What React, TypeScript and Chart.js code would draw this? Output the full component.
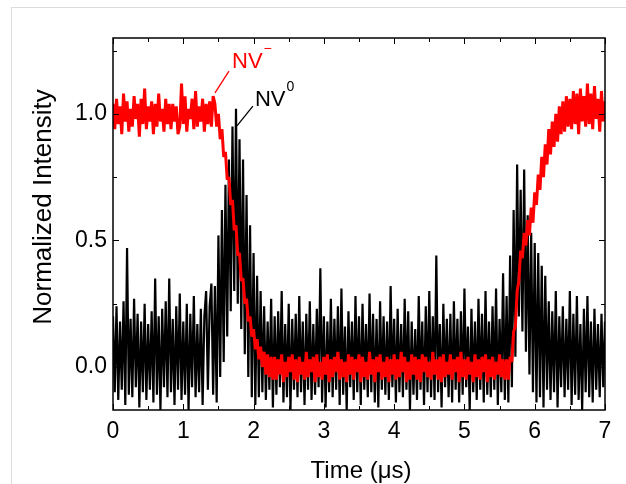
import React, { useEffect, useRef } from "react";
import { Chart, registerables } from "chart.js";

Chart.register(...registerables);

// Sampling step of the time base (µs)
const sampleStepUs = 0.025;

// NV0 (black) trace, split into time segments
const nvZeroBefore = [
  0.2, -0.1, 0.24, -0.13, 0.18, -0.09, 0.26, -0.15, 0.47, -0.11,
  0.19, -0.12, 0.27, -0.08, 0.21, -0.16, 0.18, -0.1, 0.25, -0.13,
  0.17, -0.09, 0.22, -0.14, 0.35, -0.11, 0.2, -0.17, 0.23, -0.08,
  0.26, -0.12, 0.35, -0.1, 0.19, -0.15, 0.24, -0.09, 0.29, -0.13,
  0.18, -0.11, 0.25, -0.17, 0.21, -0.08, 0.28, -0.12, 0.17, -0.1,
  0.23, -0.15, 0.2, 0.3, -0.09, 0.24, 0.33, -0.11,
];
const nvZeroPeak1 = [
  0.32, -0.14, 0.52, -0.04, 0.62, 0.02, 0.72, 0.12, 0.82, 0.22,
  0.95, 0.3, 1.02, 0.25, 0.9, 0.15, 0.82, 0.05, 0.68, -0.04,
  0.56, -0.12, 0.45, -0.15, 0.36, -0.12, 0.3,
];
const nvZeroDark = [
  -0.1, 0.24, -0.13, 0.18, -0.09, 0.27, -0.16, 0.2, -0.11, 0.22,
  -0.08, 0.3, -0.14, 0.17, -0.12, 0.25, -0.17, 0.19, -0.09, 0.21,
  -0.12, 0.28, -0.1, 0.18, -0.15, 0.21, -0.09, 0.26, -0.13, 0.17,
  -0.11, 0.23, -0.08, 0.39, -0.14, 0.2, -0.16, 0.18, -0.1, 0.27,
  -0.12, 0.19, -0.09, 0.24, -0.15, 0.31, -0.11, 0.16, -0.17, 0.22,
  -0.08, 0.18, -0.13, 0.28, -0.1, 0.2, -0.15, 0.25, -0.09, 0.17,
  -0.12, 0.29, -0.1, 0.21, -0.14, 0.19, -0.16, 0.26, -0.09, 0.2,
  -0.11, 0.18, -0.13, 0.32, -0.08, 0.19, -0.14, 0.23, -0.1, 0.17,
  -0.12, 0.27, -0.09, 0.22, -0.17, 0.18, -0.11, 0.15, -0.13, 0.28,
  -0.09, 0.18, -0.15, 0.24, -0.1, 0.3, -0.12, 0.2, -0.13, 0.44,
  -0.1, 0.17, -0.16, 0.25, -0.08, 0.19, -0.12, 0.21, -0.14, 0.26,
  -0.09, 0.19, -0.14, 0.22, -0.11, 0.31, -0.08, 0.16, -0.17, 0.23,
  -0.1, 0.18, -0.13, 0.27, -0.09, 0.21, -0.14, 0.3, -0.11, 0.18,
  -0.12, 0.24, -0.09, 0.31, -0.15, 0.19, -0.1, 0.37, -0.13,
];
const nvZeroPeak2 = [
  0.28, -0.14, 0.44, -0.08, 0.62, 0.04, 0.8, 0.2, 0.7, 0.14,
  0.78, 0.06, 0.6, -0.03, 0.53, -0.1, 0.49, -0.14, 0.45, -0.12,
  0.4, -0.16,
];
const nvZeroAfter = [
  0.36, -0.09, 0.26, -0.13, 0.22, -0.1, 0.3, -0.16, 0.2, -0.08,
  0.24, -0.12, 0.19, -0.09, 0.3, -0.15, 0.21, -0.11, 0.28, -0.13,
  0.17, -0.17, 0.23, -0.1, 0.28, -0.12, 0.18, -0.14, 0.23, -0.09,
  0.17, -0.12, 0.21, -0.08, 0.18,
];

// NV- (red) trace, split into time segments
const nvMinusBright = [
  1.04, 0.94, 1.06, 0.96, 1.03, 0.92, 1.08, 0.97, 1.05, 0.93,
  1.02, 0.95, 1.07, 0.98, 1.04, 0.91, 1.06, 0.96, 1.1, 0.94,
  1.03, 0.97, 1.05, 0.92, 1.04, 0.95, 1.08, 0.97, 1.02, 0.93,
  1.06, 0.96, 1.04, 0.94, 1.04, 0.97, 1.03, 0.92, 0.95, 1.12,
  0.96, 1.07, 0.93, 1.02, 0.98, 1.06, 0.94, 1.09, 0.95, 1.03,
  0.97, 1.06, 0.93, 1.04, 0.96, 1.05, 0.95, 1.07,
];
const nvMinusFall = [
  1.04, 0.95, 1.0, 0.9, 0.94, 0.83, 0.85, 0.74, 0.75, 0.64,
  0.66, 0.54, 0.56, 0.44, 0.45, 0.34, 0.35, 0.25, 0.27, 0.18,
  0.2, 0.12, 0.15, 0.07, 0.11, 0.03, 0.08, 0.0, 0.06, -0.03,
  0.05, -0.04, 0.04, -0.05,
];
const nvMinusDark = [
  0.04, -0.05, 0.03, -0.03, 0.05, -0.06, 0.02, -0.04, 0.04, -0.02,
  0.05, -0.05, 0.03, -0.06, 0.04, -0.03, 0.02, -0.05, 0.06, -0.04,
  0.03, -0.02, 0.04, -0.06, 0.05, -0.04, 0.02, -0.05, 0.04, -0.03,
  0.05, -0.06, 0.03, -0.04, 0.04, -0.02, 0.06, -0.05, 0.03, -0.04,
  0.02, -0.06, 0.05, -0.03, 0.04, -0.05, 0.03, -0.02, 0.05, -0.06,
  0.04, -0.04, 0.02, -0.05, 0.06, -0.03, 0.03, -0.06, 0.04, -0.02,
  0.05, -0.05, 0.02, -0.04, 0.04, -0.06, 0.03, -0.03, 0.05, -0.05,
  0.03, -0.04, 0.06, -0.02, 0.04, -0.06, 0.02, -0.05, 0.05, -0.03,
  0.04, -0.05, 0.03, -0.06, 0.05, -0.02, 0.04, -0.04, 0.02, -0.05,
  0.06, -0.03, 0.03, -0.05, 0.04, -0.06, 0.05, -0.04, 0.02, -0.03,
  0.05, -0.05, 0.03, -0.02, 0.04, -0.06, 0.06, -0.04, 0.03, -0.05,
  0.04, -0.03, 0.02, -0.06, 0.05, -0.04, 0.03, -0.05, 0.04, -0.02,
  0.05, -0.06, 0.03, -0.04, 0.04, -0.05, 0.02, -0.03, 0.05, -0.04,
  0.03, -0.05,
];
const nvMinusRise = [
  0.03, -0.05, 0.04, 0.02, 0.14, 0.16, 0.3, 0.34, 0.46, 0.43,
  0.53, 0.48, 0.58, 0.52, 0.63, 0.57, 0.69, 0.64, 0.76, 0.7,
  0.83, 0.75, 0.88, 0.8, 0.94, 0.84, 0.97, 0.87, 1.0, 0.89,
  1.03, 0.92, 1.05, 0.93, 1.07, 0.95, 1.06, 0.94, 1.09, 0.96,
  1.08, 0.92, 1.1, 0.97, 1.07, 0.95, 1.12, 0.96, 1.08, 0.94,
  1.11, 0.98, 1.06, 0.93, 1.09, 0.97, 1.05,
];

const xTickValues = [0, 1, 2, 3, 4, 5, 6, 7];
const xMinorValues = [0.5, 1.5, 2.5, 3.5, 4.5, 5.5, 6.5];
const yTickValues = [0, 0.5, 1.0];
const yMinorValues = [0.25, 0.75, 1.25];

const xTitle = "Time (μs)";
const yTitle = "Normalized Intensity";

// label annotations in data coordinates
const nvMinusLabel = { text: "NV", sup: "−", x: 1.693, y: 1.181, lineFrom: [1.65, 1.169], lineTo: [1.451, 1.083], color: "#ff0000" };
const nvZeroLabel = { text: "NV", sup: "0", x: 2.02, y: 1.031, lineFrom: [1.99, 1.031], lineTo: [1.764, 0.953], color: "#000000" };

const FONT = "'Liberation Sans', Arial, sans-serif";

const nvZero = [...nvZeroBefore, ...nvZeroPeak1, ...nvZeroDark, ...nvZeroPeak2, ...nvZeroAfter];
const nvMinus = [...nvMinusBright, ...nvMinusFall, ...nvMinusDark, ...nvMinusRise];
const toPoints = (vals: number[]) => vals.map((v, i) => ({ x: i * sampleStepUs, y: v }));

const framePlugin = {
  id: "frameAndLabels",
  afterDatasetsDraw(chart: any) {
    const { ctx, chartArea: a, scales } = chart;
    const xs = scales.x;
    const ys = scales.y;
    ctx.save();
    ctx.strokeStyle = "#000";
    ctx.lineWidth = 1.5;
    ctx.strokeRect(a.left, a.top, a.right - a.left, a.bottom - a.top);
    ctx.lineWidth = 1;
    ctx.beginPath();
    const major = 6;
    const minor = 4;
    const xt = (vals: number[], len: number) => {
      vals.forEach((v) => {
        const px = Math.round(xs.getPixelForValue(v)) + 0.5;
        ctx.moveTo(px, a.bottom);
        ctx.lineTo(px, a.bottom - len);
        ctx.moveTo(px, a.top);
        ctx.lineTo(px, a.top + len);
      });
    };
    const yt = (vals: number[], len: number) => {
      vals.forEach((v) => {
        const py = Math.round(ys.getPixelForValue(v)) + 0.5;
        ctx.moveTo(a.left, py);
        ctx.lineTo(a.left + len, py);
        ctx.moveTo(a.right, py);
        ctx.lineTo(a.right - len, py);
      });
    };
    xt(xTickValues, major);
    xt(xMinorValues, minor);
    yt(yTickValues, major);
    yt(yMinorValues, minor);
    ctx.stroke();

    // annotations
    [nvMinusLabel, nvZeroLabel].forEach((l) => {
      ctx.strokeStyle = l.color;
      ctx.fillStyle = l.color;
      ctx.lineWidth = 1.3;
      ctx.beginPath();
      ctx.moveTo(xs.getPixelForValue(l.lineFrom[0]), ys.getPixelForValue(l.lineFrom[1]));
      ctx.lineTo(xs.getPixelForValue(l.lineTo[0]), ys.getPixelForValue(l.lineTo[1]));
      ctx.stroke();
      const tx = xs.getPixelForValue(l.x);
      const ty = ys.getPixelForValue(l.y);
      ctx.font = `22px ${FONT}`;
      ctx.textAlign = "left";
      ctx.textBaseline = "alphabetic";
      ctx.fillText(l.text, tx, ty);
      const w = ctx.measureText(l.text).width;
      ctx.font = `14px ${FONT}`;
      ctx.fillText(l.sup, tx + w + 1, ty - 15);
    });

    // axis titles
    ctx.fillStyle = "#000";
    ctx.font = `24px ${FONT}`;
    ctx.textAlign = "center";
    ctx.textBaseline = "alphabetic";
    ctx.fillText(xTitle, (a.left + a.right) / 2 + 2, 478);
    ctx.save();
    ctx.translate(51, 207);
    ctx.rotate(-Math.PI / 2);
    ctx.font = `26px ${FONT}`;
    ctx.fillText(yTitle, 0, 0);
    ctx.restore();
    ctx.restore();
  },
};

export default function App() {
  const ref = useRef<HTMLCanvasElement | null>(null);
  useEffect(() => {
    if (!ref.current) return;
    const chart = new Chart(ref.current, {
      type: "line",
      data: {
        datasets: [
          {
            label: "NV-",
            data: toPoints(nvMinus),
            borderColor: "#ff0000",
            borderWidth: 3,
            borderJoinStyle: "bevel",
            pointRadius: 0,
            tension: 0,
            clip: 0,
          } as any,
          {
            label: "NV0",
            data: toPoints(nvZero),
            borderColor: "#000000",
            borderWidth: 2.2,
            borderJoinStyle: "bevel",
            pointRadius: 0,
            tension: 0,
            clip: 0,
          } as any,
        ],
      },
      options: {
        animation: false,
        responsive: false,
        parsing: false,
        normalized: true,
        events: [],
        layout: { padding: { top: 38, right: 21, left: 0, bottom: 0 } },
        plugins: { legend: { display: false }, tooltip: { enabled: false } },
        scales: {
          x: {
            type: "linear",
            min: 0,
            max: 7,
            grid: { display: false, drawTicks: false },
            border: { display: false },
            afterFit: (s: any) => {
              s.height = 74;
            },
            afterBuildTicks: (s: any) => {
              s.ticks = xTickValues.map((v) => ({ value: v }));
            },
            ticks: {
              color: "#000",
              padding: 8,
              maxRotation: 0,
              autoSkip: false,
              font: { family: FONT, size: 23 },
              callback: (v: any) => String(v),
            },
          },
          y: {
            type: "linear",
            min: -0.17,
            max: 1.3,
            grid: { display: false, drawTicks: false },
            border: { display: false },
            afterFit: (s: any) => {
              s.width = 113;
            },
            afterBuildTicks: (s: any) => {
              s.ticks = yTickValues.map((v) => ({ value: v }));
            },
            ticks: {
              color: "#000",
              padding: 6,
              font: { family: FONT, size: 23 },
              callback: (v: any) => Number(v).toFixed(1),
            },
          },
        },
      },
      plugins: [framePlugin],
    } as any);
    return () => chart.destroy();
  }, []);
  return (
    <div style={{ position: "absolute", left: 0, top: 0, width: 626, height: 484, overflow: "hidden", background: "#fff" }}>
      <div style={{ position: "absolute", left: 11, top: 7, width: 700, height: 600, border: "1px solid #dcdcdc" }} />
      <canvas ref={ref} width={626} height={484} style={{ position: "absolute", left: 0, top: 0, width: 626, height: 484 }} />
    </div>
  );
}
